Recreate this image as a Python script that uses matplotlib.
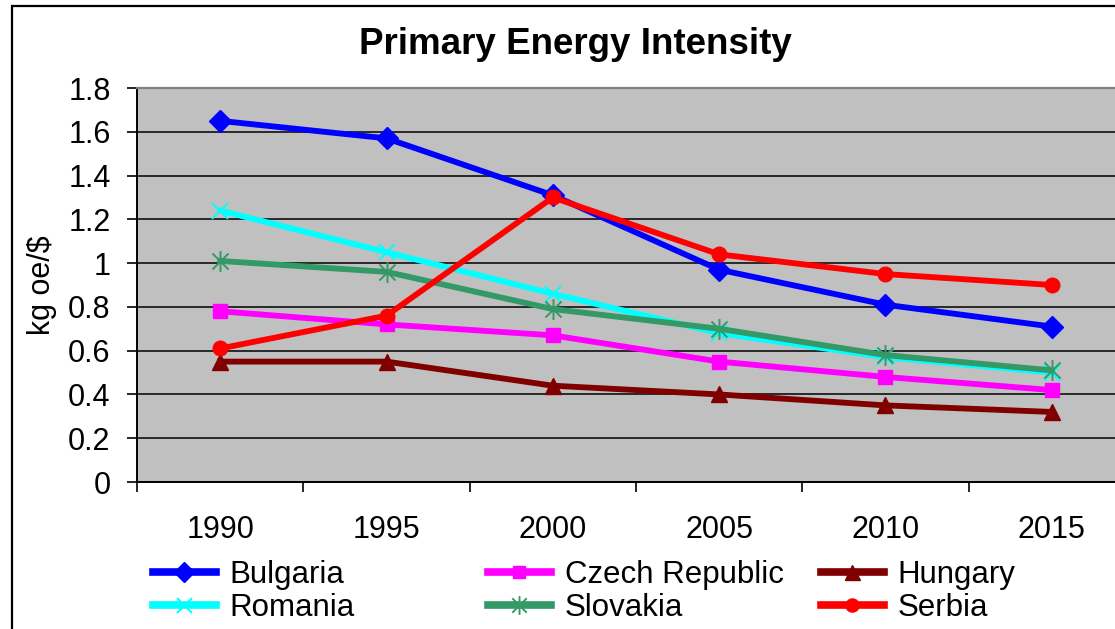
import matplotlib
matplotlib.use("Agg")
import matplotlib.pyplot as plt
from matplotlib.path import Path
from matplotlib.patches import Rectangle
from matplotlib.lines import Line2D

plt.rcParams['font.family'] = ['Liberation Sans', 'DejaVu Sans']

# ---------------- data ----------------
anos = ['1990', '1995', '2000', '2005', '2010', '2015']
bulgaria = [1.65, 1.57, 1.31, 0.97, 0.81, 0.71]
czech = [0.78, 0.72, 0.67, 0.55, 0.48, 0.42]
hungary = [0.55, 0.55, 0.44, 0.40, 0.35, 0.32]
romania = [1.24, 1.05, 0.86, 0.68, 0.57, 0.50]
slovakia = [1.01, 0.96, 0.79, 0.70, 0.58, 0.51]
serbia = [0.61, 0.76, 1.30, 1.04, 0.95, 0.90]

# marcador estrela estilo Excel (X + barra vertical)
estrela = Path([(-1, -1), (1, 1), (-1, 1), (1, -1), (0, -1.3), (0, 1.3)],
               [Path.MOVETO, Path.LINETO, Path.MOVETO, Path.LINETO,
                Path.MOVETO, Path.LINETO])

series = [
    ('Bulgaria', bulgaria, '#0000FF', 'D', 11.5),
    ('Czech Republic', czech, '#FF00FF', 's', 10),
    ('Hungary', hungary, '#800000', '^', 12),
    ('Romania', romania, '#00FFFF', 'x', 12),
    ('Slovakia', slovakia, '#339966', estrela, 15),
    ('Serbia', serbia, '#FF0000', 'o', 10.5),
]

fig = plt.figure(figsize=(11.15, 6.29), dpi=100)

# borda do grafico
fig.patches.append(Rectangle((12 / 1115, -0.1), 1.2, 1 - 6 / 629 + 0.1,
                             transform=fig.transFigure, fill=False,
                             edgecolor='black', linewidth=1.6))

ax = fig.add_axes([137 / 1115, 1 - 482 / 629, 998 / 1115, 394 / 629])
ax.set_facecolor('#C0C0C0')

x = list(range(len(anos)))
handles = {}
for nome, valores, cor, marc, ms in series:
    if marc in ('x',) or isinstance(marc, Path):
        ln, = ax.plot(x, valores, color=cor, linewidth=4.2, marker=marc,
                      markersize=ms, markeredgewidth=1.4, markeredgecolor=cor,
                      clip_on=False)
    else:
        ln, = ax.plot(x, valores, color=cor, linewidth=4.2, marker=marc,
                      markersize=ms, markerfacecolor=cor, markeredgecolor=cor,
                      clip_on=False)
    handles[nome] = ln

ax.set_xlim(-0.5, 5.5)
ax.set_ylim(0, 1.8)
ax.set_yticks([0, 0.2, 0.4, 0.6, 0.8, 1, 1.2, 1.4, 1.6, 1.8])
ax.set_yticklabels(['0', '0.2', '0.4', '0.6', '0.8', '1', '1.2', '1.4', '1.6', '1.8'])
ax.yaxis.grid(True, color='black', linewidth=1.1)
ax.set_axisbelow(True)

ax.set_xticks(x)
ax.set_xticklabels(anos)
ax.set_xticks([-0.5, 0.5, 1.5, 2.5, 3.5, 4.5], minor=True)
ax.tick_params(axis='x', which='major', length=0, pad=24, labelsize=22)
ax.tick_params(axis='x', which='minor', length=7, width=1.2, direction='out')
ax.tick_params(axis='y', length=7, width=1.2, pad=12, labelsize=22)

for lado in ['left', 'bottom']:
    ax.spines[lado].set_color('black')
    ax.spines[lado].set_linewidth(1.4)
ax.spines['top'].set_color('#808080')
ax.spines['top'].set_linewidth(1.6)
ax.spines['right'].set_visible(False)

ax.set_ylabel('kg oe/$', fontsize=22, labelpad=8)
fig.text(575 / 1115, 1 - 45 / 629, 'Primary Energy Intensity', ha='center',
         va='center', fontsize=26.5, fontweight='bold')

# legenda em tres colunas separadas
colunas = [(['Bulgaria', 'Romania'], 153),
           (['Czech Republic', 'Slovakia'], 488),
           (['Hungary', 'Serbia'], 821)]
for nomes, xpos in colunas:
    hs = []
    for nome in nomes:
        h = handles[nome]
        hs.append(Line2D([], [], color=h.get_color(), linewidth=5.5,
                         marker=h.get_marker(),
                         markersize=h.get_markersize() * 0.9,
                         markerfacecolor=h.get_markerfacecolor(),
                         markeredgecolor=h.get_markeredgecolor(),
                         markeredgewidth=h.get_markeredgewidth()))
    fig.legend(hs, nomes, loc='upper left',
               bbox_to_anchor=(xpos / 1115, 1 - 560 / 629),
               frameon=False, fontsize=22.5, handlelength=2.0,
               handletextpad=0.45, labelspacing=0.1, borderpad=0,
               borderaxespad=0)

fig.savefig('out.png', dpi=100)
